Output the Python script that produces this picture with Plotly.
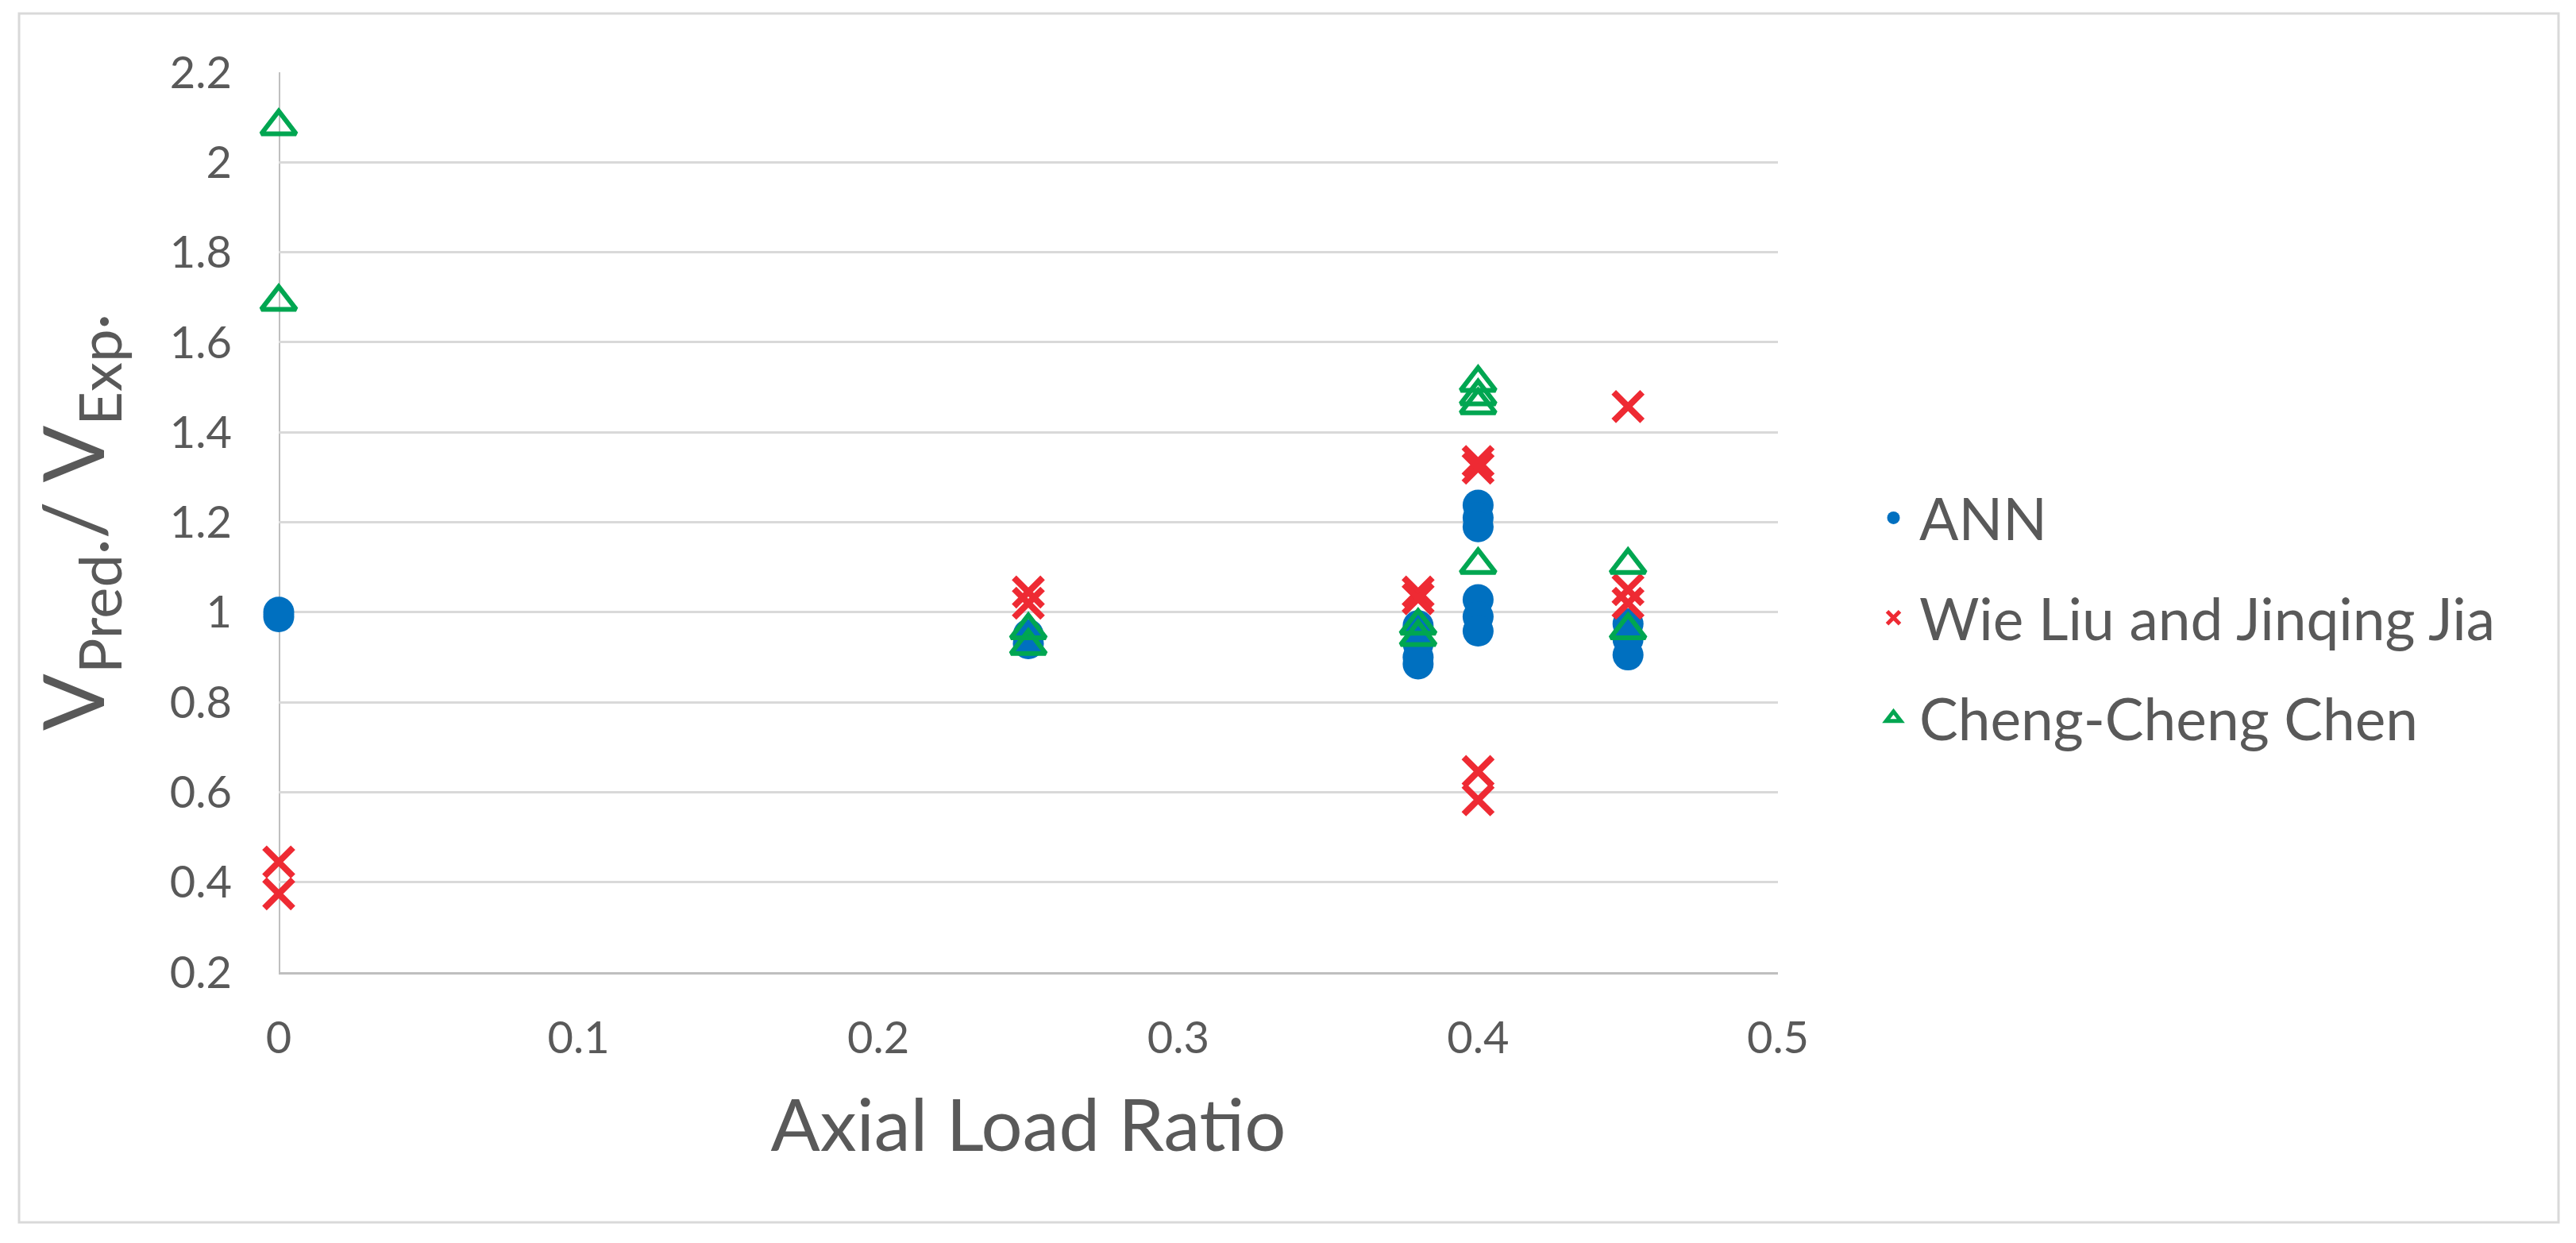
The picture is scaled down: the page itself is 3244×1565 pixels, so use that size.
import plotly.graph_objects as go

# ---- data ----
ann_x = [0, 0, 0.25, 0.25, 0.38, 0.38, 0.38, 0.38, 0.40, 0.40, 0.40, 0.40, 0.40, 0.40, 0.45, 0.45, 0.45]
ann_y = [1.00, 0.99, 0.95, 0.93, 0.97, 0.93, 0.90, 0.885, 1.238, 1.21, 1.19, 1.028, 0.99, 0.958, 0.974, 0.94, 0.905]

liu_x = [0, 0, 0.25, 0.25, 0.38, 0.38, 0.40, 0.40, 0.40, 0.40, 0.45, 0.45, 0.45]
liu_y = [0.445, 0.374, 1.045, 1.02, 1.045, 1.03, 1.335, 1.32, 0.646, 0.583, 1.457, 1.05, 1.02]

chen_x = [0, 0, 0.25, 0.25, 0.38, 0.38, 0.40, 0.40, 0.40, 0.40, 0.45, 0.45]
chen_y = [2.08, 1.69, 0.96, 0.925, 0.97, 0.945, 1.51, 1.48, 1.46, 1.105, 1.105, 0.96]

series_names = ["ANN", "Wie Liu and Jinqing Jia", "Cheng-Cheng Chen"]
x_ticks = [0, 0.1, 0.2, 0.3, 0.4, 0.5]
x_tick_text = ["0", "0.1", "0.2", "0.3", "0.4", "0.5"]
y_ticks = [0.2, 0.4, 0.6, 0.8, 1.0, 1.2, 1.4, 1.6, 1.8, 2.0, 2.2]
y_tick_text = ["0.2", "0.4", "0.6", "0.8", "1", "1.2", "1.4", "1.6", "1.8", "2", "2.2"]

FONT = "Lato"
TXT = "#595959"

fig = go.Figure()
fig.add_trace(go.Scatter(
    x=ann_x, y=ann_y, mode="markers", name=series_names[0], legendgroup="a",
    cliponaxis=False,
    marker=dict(symbol="circle", size=39, color="#0070C0", line=dict(width=0)),
))
fig.add_trace(go.Scatter(
    x=liu_x, y=liu_y, mode="markers", name=series_names[1], legendgroup="b",
    cliponaxis=False,
    marker=dict(symbol="x-thin", size=36, color="#EE2A33", line=dict(width=8, color="#EE2A33")),
))
fig.add_trace(go.Scatter(
    x=chen_x, y=chen_y, mode="markers", name=series_names[2], legendgroup="c",
    cliponaxis=False,
    marker=dict(symbol="triangle-up-open", size=38, color="#00A651", line=dict(width=6, color="#00A651")),
))

W, H = 3244, 1565
L, R, T, B = 351, 1005, 91, 341
pw = W - L - R
ph = H - T - B

def px_to_paper_x(px):
    return (px - L) / pw

def px_to_paper_y(py):
    return (H - B - py) / ph

fig.update_layout(
    width=W, height=H,
    margin=dict(l=L, r=R, t=T, b=B, autoexpand=False),
    paper_bgcolor="white", plot_bgcolor="white",
    font=dict(family=FONT, color=TXT),
    showlegend=True,
    legend=dict(
        x=px_to_paper_x(2352), xanchor="left",
        y=px_to_paper_y(778), yanchor="middle",
        font=dict(family=FONT, size=73, color=TXT),
        tracegroupgap=28, itemsizing="trace", itemwidth=55,
        bgcolor="rgba(0,0,0,0)",
    ),
    xaxis=dict(
        range=[0, 0.5], tickvals=x_ticks, ticktext=x_tick_text,
        showgrid=False, zeroline=False,
        showline=True, linecolor="#BFBFBF", linewidth=3,
        ticks="", ticklabelstandoff=32,
        tickfont=dict(family=FONT, size=56, color=TXT),
        title=dict(text="Axial Load Ratio", font=dict(family=FONT, size=92, color=TXT), standoff=48),
    ),
    yaxis=dict(
        range=[0.2, 2.2], tickvals=y_ticks, ticktext=y_tick_text,
        showgrid=True, gridcolor="#D9D9D9", gridwidth=3,
        zeroline=False, showline=False,
        ticks="", ticklabelstandoff=58,
        tickfont=dict(family=FONT, size=56, color=TXT),
        title=dict(text="V<sub>Pred·</sub>/ V<sub>Exp·</sub>", font=dict(family=FONT, size=106, color=TXT), standoff=46),
    ),
    shapes=[
        dict(type="line", xref="x", yref="paper", x0=0, x1=0, y0=0, y1=1,
             line=dict(color="#BFBFBF", width=4), layer="below"),
        dict(type="rect", xref="paper", yref="paper",
             x0=px_to_paper_x(24), x1=px_to_paper_x(3222),
             y0=px_to_paper_y(1539), y1=px_to_paper_y(17),
             line=dict(color="#D9D9D9", width=3), fillcolor="rgba(0,0,0,0)", layer="below"),
    ],
)

fig.write_html("out.html")
